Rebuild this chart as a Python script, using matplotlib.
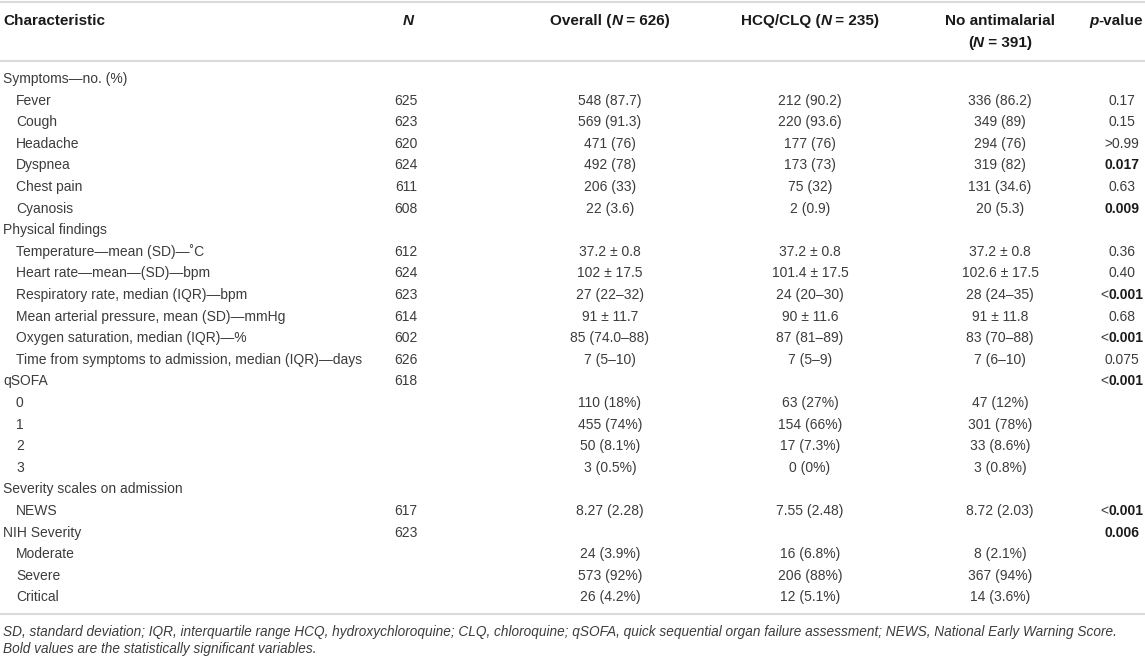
import matplotlib
matplotlib.use('Agg')
import matplotlib.pyplot as plt

plt.rcParams['font.family'] = ['Liberation Sans', 'DejaVu Sans']

# Datos de la tabla
characteristics = [
    'Symptoms\u2014no. (%)', 'Fever', 'Cough', 'Headache', 'Dyspnea', 'Chest pain', 'Cyanosis',
    'Physical findings', 'Temperature\u2014mean (SD)\u2014\u02daC', 'Heart rate\u2014mean\u2014(SD)\u2014bpm',
    'Respiratory rate, median (IQR)\u2014bpm', 'Mean arterial pressure, mean (SD)\u2014mmHg',
    'Oxygen saturation, median (IQR)\u2014%', 'Time from symptoms to admission, median (IQR)\u2014days',
    'qSOFA', '0', '1', '2', '3',
    'Severity scales on admission', 'NEWS', 'NIH Severity', 'Moderate', 'Severe', 'Critical',
]
indent = [0, 1, 1, 1, 1, 1, 1, 0, 1, 1, 1, 1, 1, 1, 0, 1, 1, 1, 1, 0, 1, 0, 1, 1, 1]
n_vals = ['', '625', '623', '620', '624', '611', '608', '', '612', '624', '623', '614', '602', '626',
          '618', '', '', '', '', '', '617', '623', '', '', '']
overall = ['', '548 (87.7)', '569 (91.3)', '471 (76)', '492 (78)', '206 (33)', '22 (3.6)', '',
           '37.2 \u00b1 0.8', '102 \u00b1 17.5', '27 (22\u201332)', '91 \u00b1 11.7', '85 (74.0\u201388)',
           '7 (5\u201310)', '', '110 (18%)', '455 (74%)', '50 (8.1%)', '3 (0.5%)', '', '8.27 (2.28)', '',
           '24 (3.9%)', '573 (92%)', '26 (4.2%)']
hcq = ['', '212 (90.2)', '220 (93.6)', '177 (76)', '173 (73)', '75 (32)', '2 (0.9)', '',
       '37.2 \u00b1 0.8', '101.4 \u00b1 17.5', '24 (20\u201330)', '90 \u00b1 11.6', '87 (81\u201389)',
       '7 (5\u20139)', '', '63 (27%)', '154 (66%)', '17 (7.3%)', '0 (0%)', '', '7.55 (2.48)', '',
       '16 (6.8%)', '206 (88%)', '12 (5.1%)']
no_antimalarial = ['', '336 (86.2)', '349 (89)', '294 (76)', '319 (82)', '131 (34.6)', '20 (5.3)', '',
                   '37.2 \u00b1 0.8', '102.6 \u00b1 17.5', '28 (24\u201335)', '91 \u00b1 11.8', '83 (70\u201388)',
                   '7 (6\u201310)', '', '47 (12%)', '301 (78%)', '33 (8.6%)', '3 (0.8%)', '', '8.72 (2.03)', '',
                   '8 (2.1%)', '367 (94%)', '14 (3.6%)']
p_values = ['', '0.17', '0.15', '>0.99', '0.017', '0.63', '0.009', '', '0.36', '0.40', '<0.001', '0.68',
            '<0.001', '0.075', '<0.001', '', '', '', '', '', '<0.001', '0.006', '', '', '']
p_sig = [False, False, False, False, True, False, True, False, False, False, True, False,
         True, False, True, False, False, False, False, False, True, True, False, False, False]

footnote = ['SD, standard deviation; IQR, interquartile range HCQ, hydroxychloroquine; CLQ, chloroquine; '
            'qSOFA, quick sequential organ failure assessment; NEWS, National Early Warning Score.',
            'Bold values are the statistically significant variables.']

W, H = 1145, 660
fig = plt.figure(figsize=(W / 100, H / 100), dpi=100)
ax = fig.add_axes([0, 0, 1, 1])
ax.set_xlim(0, W)
ax.set_ylim(H, 0)
ax.axis('off')
renderer = fig.canvas.get_renderer()

FS = 10      # cuerpo
FS_H = 11    # encabezado
BODY = '#3c3c3c'
HEAD = '#1a1a1a'
LINE = '#dadada'

x_char, x_ind = 3, 16
x_n, x_over, x_hcq, x_no, x_p = 406, 610, 810, 1000, 1122
y0, dy = 79, 21.6


def ancho(texto, **kw):
    # ancho en pixeles incluyendo espacios
    t = ax.text(0, 0, '|' + texto + '|', **kw)
    r = ax.text(0, 0, '||', **kw)
    w = t.get_window_extent(renderer).width - r.get_window_extent(renderer).width
    t.remove()
    r.remove()
    return w


def texto_partes(x, y, partes, ha='center'):
    total = sum(ancho(s, **kw) for s, kw in partes)
    if ha == 'center':
        xs = x - total / 2
    elif ha == 'right':
        xs = x - total
    else:
        xs = x
    for s, kw in partes:
        ax.text(xs, y, s, ha='left', va='center', **kw)
        xs += ancho(s, **kw)


# Lineas horizontales
for yl in [2, 61, 614]:
    ax.plot([0, W], [yl, yl], color=LINE, lw=1.5, solid_capstyle='butt')

# Encabezado
hb = dict(fontsize=FS_H, fontweight='bold', color=HEAD)
hi = dict(fontsize=FS_H, fontweight='bold', fontstyle='italic', color=HEAD)
ax.text(x_char, 21, 'Characteristic', va='center', **hb)
texto_partes(x_n + 2, 21, [('N', hi)])
texto_partes(x_over, 21, [('Overall (', hb), ('N', hi), (' = 626)', hb)])
texto_partes(x_hcq, 21, [('HCQ/CLQ (', hb), ('N', hi), (' = 235)', hb)])
texto_partes(x_no, 21, [('No antimalarial', hb)])
texto_partes(x_no, 43, [('(', hb), ('N', hi), (' = 391)', hb)])
texto_partes(1143, 21, [('p', hi), ('-value', hb)], ha='right')

# Filas
body = dict(fontsize=FS, color=BODY)
bold = dict(fontsize=FS, color=HEAD, fontweight='bold')
for i, lab in enumerate(characteristics):
    y = y0 + i * dy
    ax.text(x_ind if indent[i] else x_char, y, lab, va='center', **body)
    for xc, col in [(x_n, n_vals), (x_over, overall), (x_hcq, hcq), (x_no, no_antimalarial)]:
        if col[i]:
            ax.text(xc, y, col[i], ha='center', va='center', **body)
    pv = p_values[i]
    if pv:
        if p_sig[i]:
            if pv.startswith('<'):
                texto_partes(x_p, y, [('<', body), (pv[1:], bold)])
            else:
                texto_partes(x_p, y, [(pv, bold)])
        else:
            texto_partes(x_p, y, [(pv, body)])

# Nota al pie
for k, linea in enumerate(footnote):
    ax.text(x_char, 632 + k * 16.5, linea, fontsize=9.8, fontstyle='italic', va='center', color=BODY)

plt.savefig('out.png', dpi=100)
